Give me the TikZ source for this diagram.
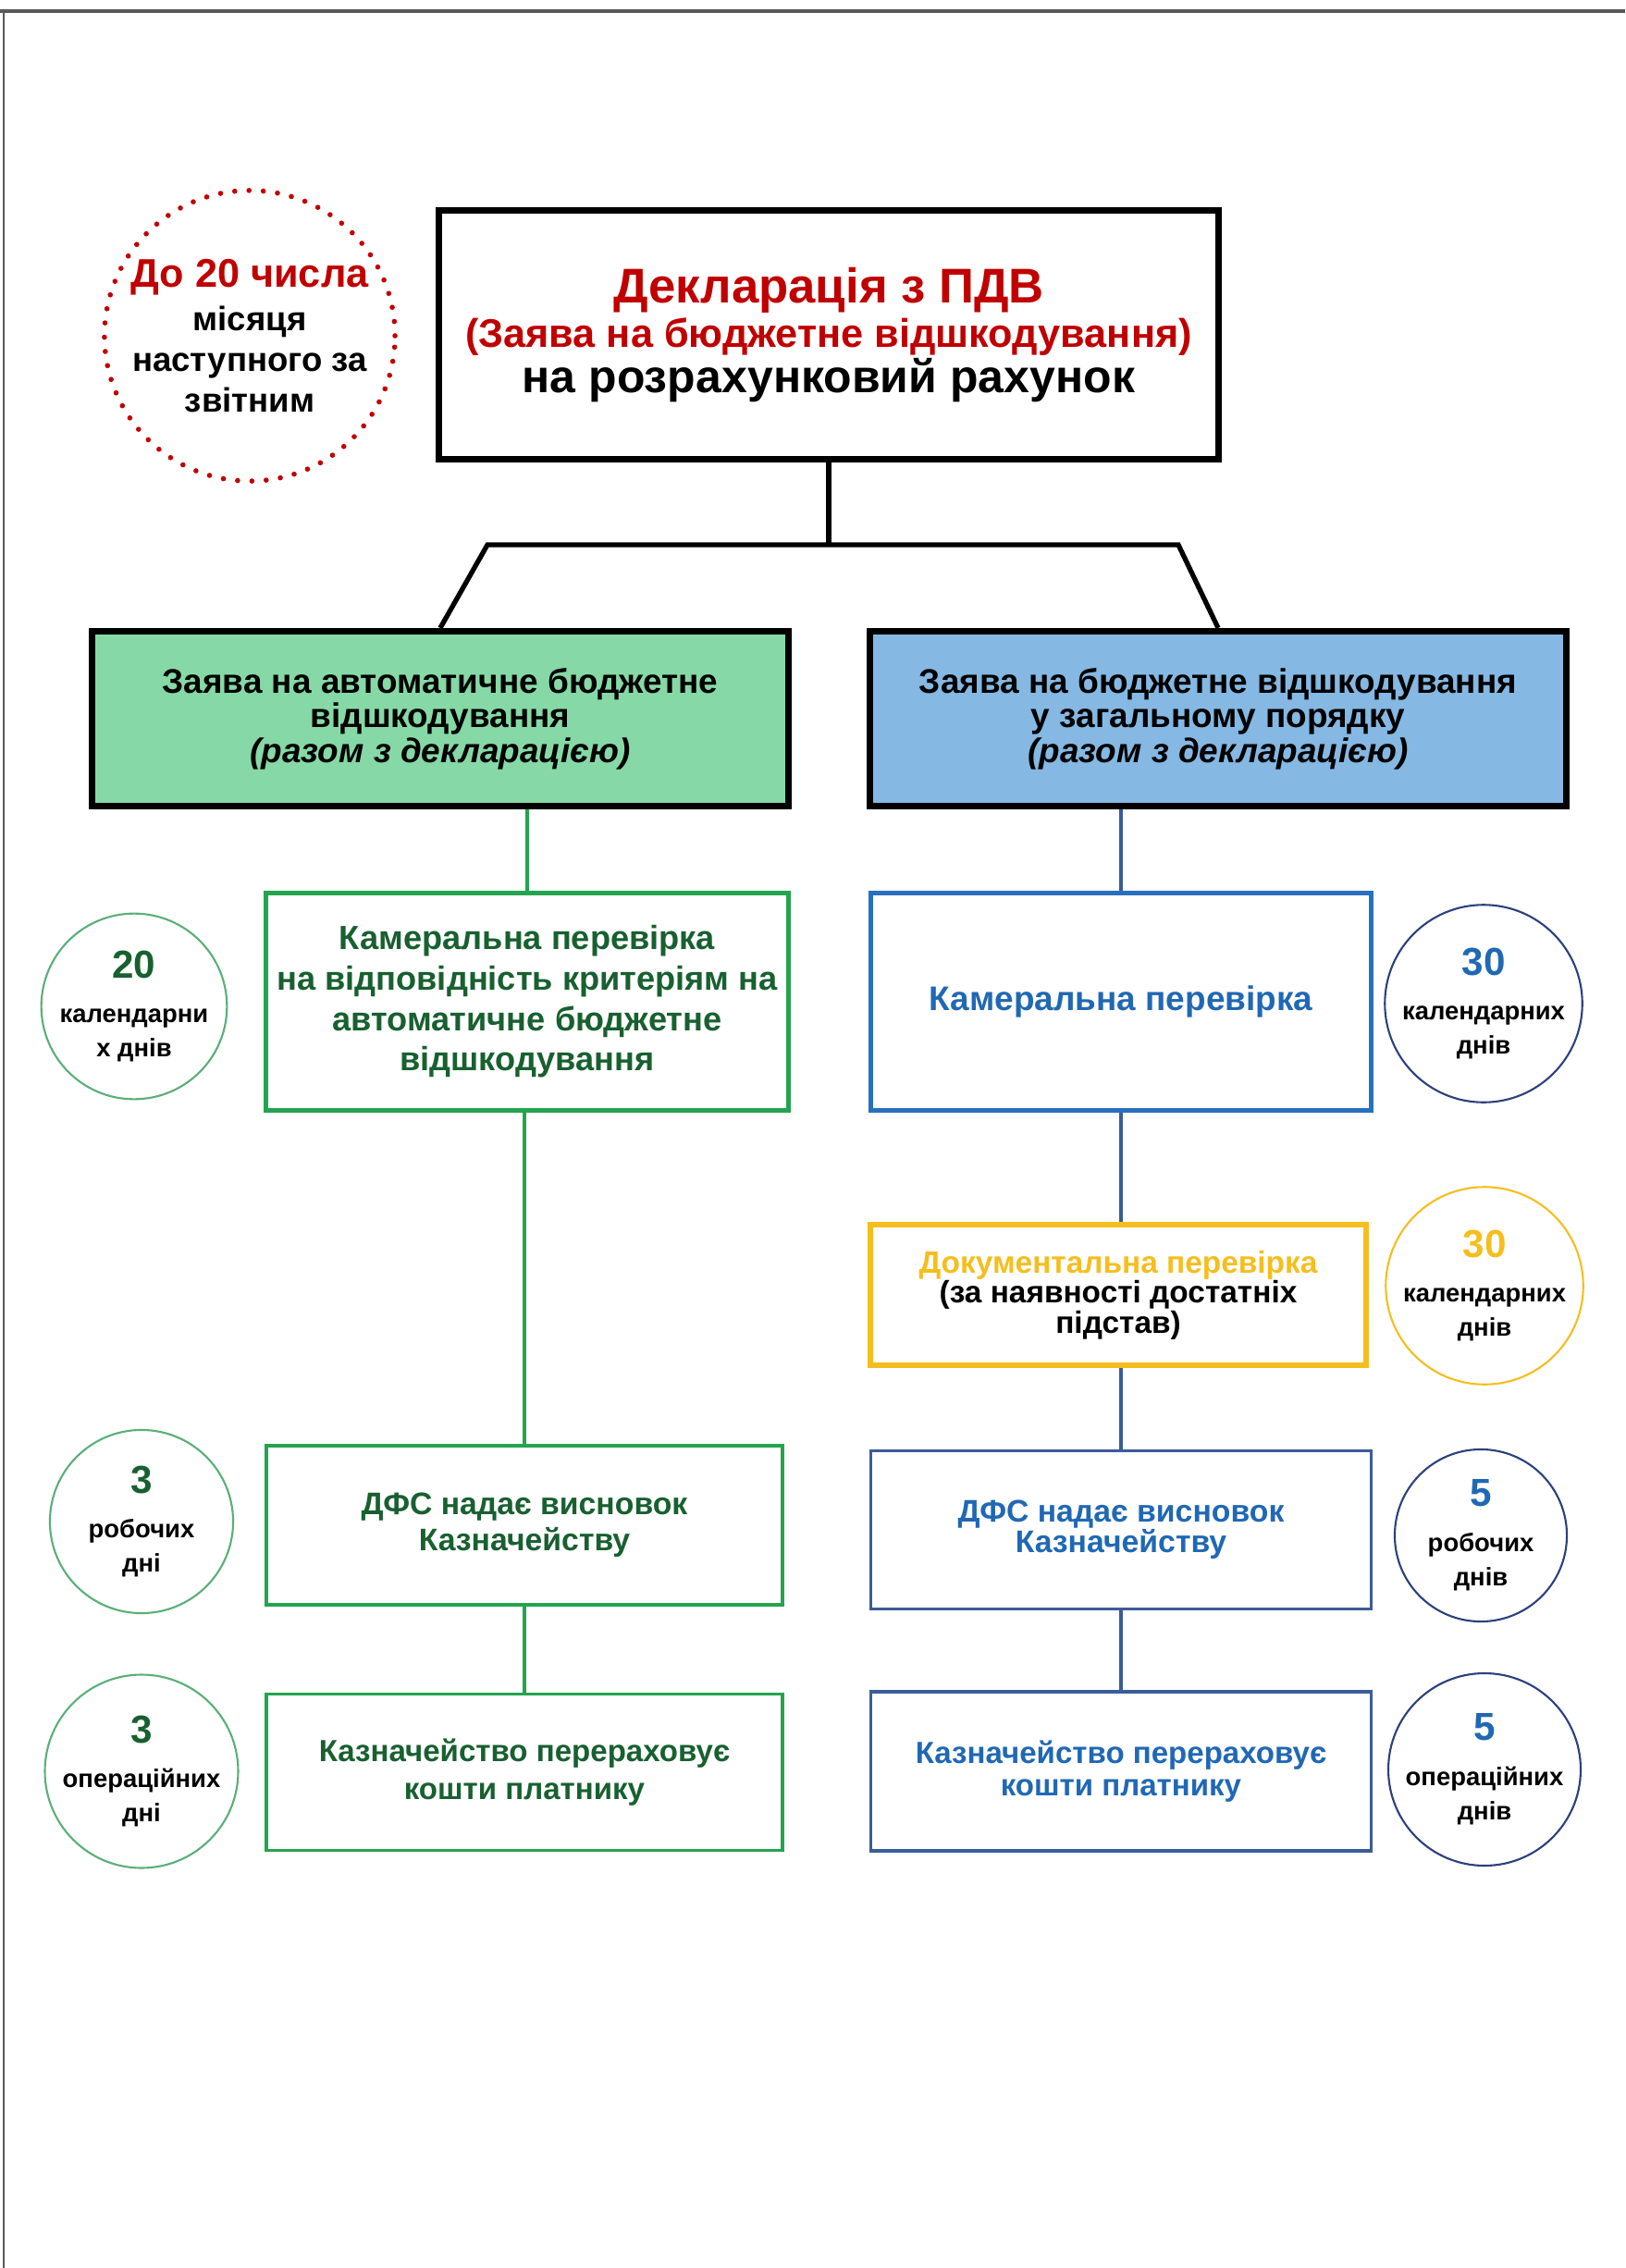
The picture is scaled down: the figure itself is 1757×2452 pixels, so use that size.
\documentclass[tikz,border=0pt]{standalone}
\usepackage{fontspec}
\setmainfont{Liberation Sans}

\definecolor{declred}{RGB}{192,0,0}
\definecolor{autofill}{RGB}{134,217,166}
\definecolor{genfill}{RGB}{133,184,226}
\definecolor{autogreen}{RGB}{36,164,80}
\definecolor{autotext}{RGB}{24,96,48}
\definecolor{circgreen}{RGB}{90,175,120}
\definecolor{genblue}{RGB}{40,112,190}
\definecolor{gendark}{RGB}{58,92,152}
\definecolor{gentext}{RGB}{32,104,180}
\definecolor{circblue}{RGB}{44,64,124}
\definecolor{docyellow}{RGB}{245,190,30}

\newcommand{\fsz}[2]{\fontsize{#1}{#2}\selectfont}

\begin{document}
\begin{tikzpicture}[x=0.01cm,y=-0.01cm,
    every node/.style={align=center,inner sep=0pt,font=\bfseries},
    headbox/.style={draw=black,line width=2pt,minimum width=7.52cm,minimum height=1.89cm,
      font=\bfseries\fsz{10.5}{10.7}},
    stagebox/.style={draw=#1,fill=white},
    daycirc/.style={circle,draw=#1,line width=0.6pt,font=\bfseries\fsz{7.8}{10.7}},
    gline/.style={autogreen,line width=1.3pt},
    bline/.style={gendark,line width=1.3pt}]

      \useasboundingbox (0,0) rectangle (1757,2452);
      \draw[black!65,line width=0.9pt] (0,12) -- (1757,12);
      \draw[black!65,line width=0.6pt] (4,12) -- (4,2452);

      %%%%%%%%%%%%%%%%%%%%%%%%%%%%%%%%%%%%%%%%%%%%%%%%%%%%%%%%%%%%%%%%%%%%%%%%%%%
      %%%%  Declaration
      \node[draw=black,line width=2pt,minimum width=8.43cm,minimum height=2.69cm,
            font=\bfseries\fsz{14.2}{13.8}] (decl) at (896,362)
        {\textcolor{declred}{\fsz{15}{13.8}Декларація з ПДВ}\\
         \textcolor{declred}{\fsz{12.3}{13.8}(Заява на бюджетне відшкодування)}\\
         на розрахунковий рахунок};

      \node[circle,draw=declred,line width=1.6pt,dash pattern=on 0pt off 4.4pt,line cap=round,
            minimum size=3.14cm,font=\bfseries\fsz{10.4}{12.5}] (term) at (270,363)
        {\textcolor{declred}{\fsz{12.3}{12.5}До 20 числа}\\[1pt]місяця\\наступного за\\звітним};

      \node[headbox,fill=autofill] (auto) at (476,777)
        {Заява на автоматичне бюджетне\\відшкодування\\\textit{(разом з декларацією)}};
      \node[headbox,fill=genfill] (gen) at (1317,777)
        {Заява на бюджетне відшкодування\\у загальному порядку\\\textit{(разом з декларацією)}};

      \coordinate (barl) at (527,589);
      \coordinate (barr) at (1274,589);
      \draw[line width=1.5pt] (decl.south) -- (decl.south |- barl);
      \draw[line width=1.5pt] (auto.north) -- (barl) -- (barr) -- (gen.north);

      %%%%%%%%%%%%%%%%%%%%%%%%%%%%%%%%%%%%%%%%%%%%%%%%%%%%%%%%%%%%%%%%%%%%%%%%%%%
      %%%%  Green
      \node[stagebox=autogreen,line width=1.4pt,minimum width=5.64cm,minimum height=2.34cm,
            text=autotext,font=\bfseries\fsz{10.3}{12.4}] (akam) at (570,1083)
        {Камеральна перевірка\\на відповідність критеріям на\\автоматичне бюджетне\\відшкодування};
      \node[stagebox=autogreen,line width=1pt,minimum width=5.58cm,minimum height=1.72cm,
            text=autotext,font=\bfseries\fsz{9.6}{11}] (adfs) at (567,1649)
        {ДФС надає висновок\\Казначейству};
      \node[stagebox=autogreen,line width=1pt,minimum width=5.58cm,minimum height=1.69cm,
            text=autotext,font=\bfseries\fsz{9.4}{11.5}] (apay) at (567,1916)
        {Казначейство перераховує\\кошти платнику};

      \draw[gline] (auto.south -| akam.north) -- (akam.north);
      \draw[gline] (adfs.north |- akam.south) -- (adfs.north);
      \draw[gline] (adfs.south) -- (apay.north);

      %%%%%%%%%%%%%%%%%%%%%%%%%%%%%%%%%%%%%%%%%%%%%%%%%%%%%%%%%%%%%%%%%%%%%%%%%%%
      %%%%  Blue
      \node[stagebox=genblue,line width=1.4pt,minimum width=5.41cm,minimum height=2.34cm,
            text=gentext,font=\bfseries\fsz{10.5}{12.4}] (gkam) at (1212,1083)
        {Камеральна перевірка};
      \node[stagebox=docyellow,line width=1.8pt,minimum width=5.36cm,minimum height=1.52cm,
            font=\bfseries\fsz{9.5}{9.2}] (gdoc) at (1209,1400)
        {\textcolor{docyellow}{Документальна перевірка}\\(за наявності достатніх\\підстав)};
      \node[stagebox=gendark,line width=1pt,minimum width=5.41cm,minimum height=1.71cm,
            text=gentext,font=\bfseries\fsz{9.6}{9.4}] (gdfs) at (1212,1654)
        {ДФС надає висновок\\Казначейству};
      \node[stagebox=gendark,line width=1pt,minimum width=5.41cm,minimum height=1.72cm,
            text=gentext,font=\bfseries\fsz{9.4}{9.8}] (gpay) at (1212,1915)
        {Казначейство перераховує\\кошти платнику};

      \draw[bline] (gen.south -| gkam.north) -- (gkam.north);
      \draw[bline] (gkam.south) -- (gkam.south |- gdoc.north);
      \draw[bline] (gdoc.south -| gdfs.north) -- (gdfs.north);
      \draw[bline] (gdfs.south) -- (gpay.north);

      %%%%%%%%%%%%%%%%%%%%%%%%%%%%%%%%%%%%%%%%%%%%%%%%%%%%%%%%%%%%%%%%%%%%%%%%%%%
      %%%%  Days
      \foreach \nm/\px/\py/\dsz/\col/\numcol/\num/\txt in {
          c20/145/1088/1.94/circgreen/autotext/20/{календарни\\х днів},
          c3a/153/1645/1.98/circgreen/autotext/3/{робочих\\дні},
          c3b/153/1915/1.96/circgreen/autotext/3/{операційних\\дні},
          c30a/1604/1085/1.96/circblue/gentext/30/{календарних\\днів},
          c30b/1605/1390/1.92/docyellow/docyellow/30/{календарних\\днів},
          c5a/1601/1660/1.86/circblue/gentext/5/{робочих\\днів},
          c5b/1605/1913/1.94/circblue/gentext/5/{операційних\\днів}}
       {\node[daycirc=\col,minimum size=\dsz cm] (\nm) at (\px,\py)
          {\textcolor{\numcol}{\fsz{12}{12}\num}\\[3pt]\txt};
       };
    \end{tikzpicture}
\end{document}
